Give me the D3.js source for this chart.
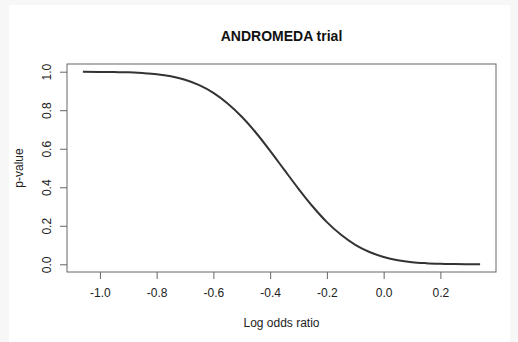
<!DOCTYPE html>
<html>
<head>
<meta charset="utf-8">
<script src="https://cdn.jsdelivr.net/npm/d3@7"></script>
<style>
  body { margin: 0; background: #f7f7f7; }
  text { font-family: "Liberation Sans", Arial, Helvetica, sans-serif; fill: #222; }
</style>
</head>
<body>
<script>
// values
var logOdds = [-1.06, -1.00, -0.95, -0.90, -0.85, -0.80, -0.75, -0.70, -0.65, -0.60,
  -0.55, -0.50, -0.45, -0.40, -0.35, -0.30, -0.25, -0.20, -0.15, -0.10,
  -0.05, 0.00, 0.05, 0.10, 0.15, 0.20, 0.25, 0.30, 0.34];
var pValues = [1.000, 0.999, 0.998, 0.997, 0.993, 0.987, 0.976, 0.958, 0.930, 0.890,
  0.835, 0.766, 0.683, 0.589, 0.490, 0.392, 0.300, 0.219, 0.153, 0.101,
  0.064, 0.038, 0.021, 0.011, 0.006, 0.003, 0.001, 0.0005, 0.0003];
var xTicks = [-1.0, -0.8, -0.6, -0.4, -0.2, 0.0, 0.2];
var yTicks = [0.0, 0.2, 0.4, 0.6, 0.8, 1.0];
var title = "ANDROMEDA trial";
var xLabel = "Log odds ratio";
var yLabel = "p-value";

var width = 518, height = 342;
var box = {left: 67, right: 496, top: 64, bottom: 272};

var svg = d3.select("body").append("svg")
  .attr("width", width)
  .attr("height", height);

// white panel
svg.append("rect")
  .attr("x", 9).attr("y", 5)
  .attr("width", 501).attr("height", height - 5)
  .attr("fill", "white");

// R style 4% padding on both axes
var xr = d3.extent(logOdds), xp = (xr[1] - xr[0]) * 0.04;
var x = d3.scaleLinear()
  .domain([xr[0] - xp, xr[1] + xp])
  .range([box.left, box.right]);
var y = d3.scaleLinear()
  .domain([-0.04, 1.04])
  .range([box.bottom, box.top]);

svg.append("text")
  .attr("x", (box.left + box.right) / 2)
  .attr("y", 41)
  .attr("text-anchor", "middle")
  .style("font-size", "14px")
  .style("font-weight", "bold")
  .style("fill", "#111")
  .text(title);

var xAxis = svg.append("g")
  .attr("transform", "translate(0," + box.bottom + ")")
  .call(d3.axisBottom(x).tickValues(xTicks).tickFormat(d3.format(".1f")).tickSize(7).tickPadding(9));
xAxis.select(".domain").remove();
xAxis.selectAll("line").attr("stroke", "#666");
xAxis.selectAll("text").style("font-size", "12px").style("fill", "#222")
  .text(function(d) { return d3.format(".1f")(d).replace("−", "-"); });

var yAxis = svg.append("g")
  .attr("transform", "translate(" + box.left + ",0)")
  .call(d3.axisLeft(y).tickValues(yTicks).tickFormat(d3.format(".1f")).tickSize(7));
yAxis.select(".domain").remove();
yAxis.selectAll("line").attr("stroke", "#666");
yAxis.selectAll("text")
  .attr("x", 0).attr("y", 0).attr("dy", null)
  .attr("text-anchor", "middle")
  .attr("transform", "translate(-16,0) rotate(-90)")
  .style("font-size", "12px").style("fill", "#222");

svg.append("rect")
  .attr("x", box.left).attr("y", box.top)
  .attr("width", box.right - box.left).attr("height", box.bottom - box.top)
  .attr("fill", "none")
  .attr("stroke", "#666")
  .attr("stroke-width", 1);

var line = d3.line()
  .x(function(d, i) { return x(logOdds[i]); })
  .y(function(d) { return y(d); })
  .curve(d3.curveMonotoneX);

svg.append("path")
  .datum(pValues)
  .attr("d", line)
  .attr("fill", "none")
  .attr("stroke", "#333")
  .attr("stroke-width", 2);

svg.append("text")
  .attr("x", (box.left + box.right) / 2)
  .attr("y", 327)
  .attr("text-anchor", "middle")
  .style("font-size", "12px")
  .text(xLabel);

svg.append("text")
  .attr("transform", "translate(23," + ((box.top + box.bottom) / 2) + ") rotate(-90)")
  .attr("text-anchor", "middle")
  .style("font-size", "12px")
  .text(yLabel);
</script>
</body>
</html>
